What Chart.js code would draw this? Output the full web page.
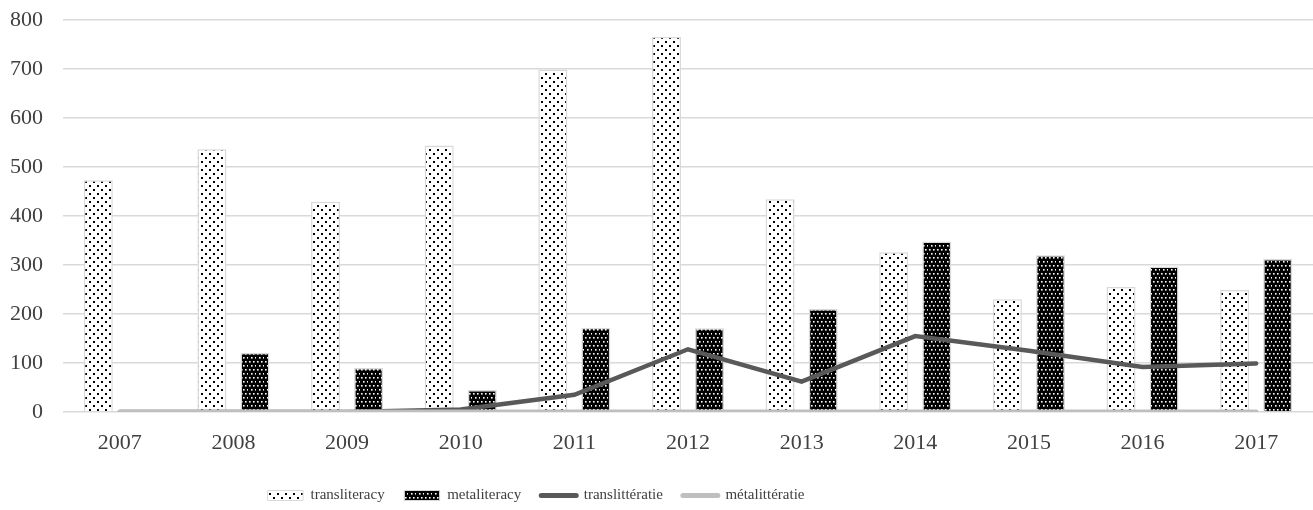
<!DOCTYPE html>
<html>
<head>
<meta charset="utf-8">
<script src="https://cdn.jsdelivr.net/npm/chart.js@4.4.1/dist/chart.umd.min.js"></script>
<style>
  html, body { margin: 0; padding: 0; background: #fff; }
  #wrap { position: relative; width: 1313px; height: 510px; }
</style>
</head>
<body>
<div id="wrap"><canvas id="chart"></canvas></div>
<script>
// --- DATA ---
const years = ['2007', '2008', '2009', '2010', '2011', '2012', '2013', '2014', '2015', '2016', '2017'];
const transliteracy = [473, 536, 429, 544, 699, 766, 434, 326, 230, 255, 249];
const metaliteracy = [0, 121, 90, 45, 172, 171, 210, 348, 320, 297, 312];
const translitteratie = [0, 0, 0, 5, 35, 128, 62, 155, 125, 92, 99];
const metalitteratie = [0, 0, 0, 0, 0, 0, 0, 0, 0, 0, 0];
const yTicks = [0, 100, 200, 300, 400, 500, 600, 700, 800];

const FONT = '"Liberation Serif", "Times New Roman", serif';
const TEXT = '#404040';
const GRID = '#d9d9d9';

// dotted fills like the original office patterns
function dotPattern(bg, fg, tile, dots, size) {
    const c = document.createElement('canvas');
    c.width = tile;
    c.height = tile;
    const g = c.getContext('2d');
    g.fillStyle = bg;
    g.fillRect(0, 0, tile, tile);
    g.fillStyle = fg;
    dots.forEach(d => g.fillRect(d[0], d[1], size, size));
    return g.createPattern(c, 'repeat');
}

const ctx = document.getElementById('chart').getContext('2d');
const lightDots = dotPattern('#ffffff', '#000000', 8, [[1, 1], [5, 5]], 2);
const darkDots = dotPattern('#000000', '#ffffff', 8, [[1, 1], [5, 1], [3, 5], [7, 5]], 1.6);

// legend sits left of centre in the original, move it after layout
const legendPlace = {
    id: 'legendPlace',
    afterLayout(chart) {
        const lg = chart.legend;
        if (!lg) return;
        lg.left = 248;
        lg.top = 468;
    }
};

new Chart(ctx, {
    type: 'bar',
    data: {
        labels: years,
        datasets: [
            {
                label: 'transliteracy',
                data: transliteracy,
                backgroundColor: lightDots,
                borderColor: GRID,
                borderWidth: 1.5,
                barPercentage: 0.674,
                categoryPercentage: 0.758,
                order: 2
            },
            {
                label: 'metaliteracy',
                data: metaliteracy,
                backgroundColor: darkDots,
                borderColor: GRID,
                borderWidth: 1.5,
                barPercentage: 0.674,
                categoryPercentage: 0.758,
                order: 3
            },
            {
                type: 'line',
                label: 'translittératie',
                data: translitteratie,
                borderColor: '#595959',
                backgroundColor: '#595959',
                borderWidth: 4.5,
                borderCapStyle: 'round',
                pointRadius: 0,
                tension: 0,
                order: 1
            },
            {
                type: 'line',
                label: 'métalittératie',
                data: metalitteratie,
                borderColor: '#bfbfbf',
                backgroundColor: '#bfbfbf',
                borderWidth: 5,
                borderCapStyle: 'round',
                pointRadius: 0,
                tension: 0,
                order: 0
            }
        ]
    },
    options: {
        responsive: true,
        maintainAspectRatio: false,
        animation: false,
        layout: { autoPadding: false, padding: { top: 20, left: 0, right: 0, bottom: 0 } },
        scales: {
            x: {
                grid: { display: false, drawTicks: false },
                border: { display: false },
                ticks: { color: TEXT, padding: 18, font: { family: FONT, size: 22 } },
                afterFit(scale) { scale.height = 53; }
            },
            y: {
                min: 0,
                max: 800,
                afterBuildTicks(scale) { scale.ticks = yTicks.map(v => ({ value: v })); },
                grid: { color: GRID, lineWidth: 1.5, drawTicks: false },
                border: { display: false },
                ticks: { color: TEXT, padding: 20, font: { family: FONT, size: 22 } },
                afterFit(scale) {
                    // fixed axis width, no extra label padding above the plot
                    scale.width = 63;
                    scale.paddingTop = 0;
                    scale.paddingBottom = 0;
                }
            }
        },
        plugins: {
            tooltip: { enabled: false },
            legend: {
                position: 'bottom',
                align: 'start',
                labels: {
                    usePointStyle: true,
                    pointStyleWidth: 35,
                    boxHeight: 10,
                    padding: 20,
                    color: TEXT,
                    font: { family: FONT, size: 15 },
                    generateLabels(chart) {
                        return chart.data.datasets.map((ds, i) => {
                            const isLine = ds.type === 'line';
                            return {
                                text: ds.label,
                                datasetIndex: i,
                                fillStyle: isLine ? 'rgba(0,0,0,0)' : ds.backgroundColor,
                                strokeStyle: ds.borderColor,
                                lineWidth: isLine ? 5 : 1,
                                lineCap: 'round',
                                pointStyle: isLine ? 'line' : 'rect',
                                fontColor: TEXT,
                                hidden: false
                            };
                        });
                    }
                }
            }
        }
    },
    plugins: [legendPlace]
});
</script>
</body>
</html>
